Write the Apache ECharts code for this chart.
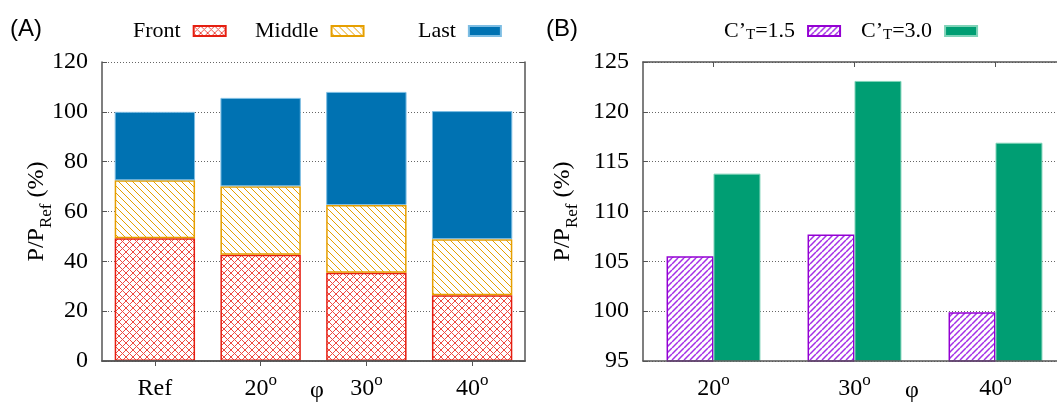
<!DOCTYPE html>
<html>
<head>
<meta charset="utf-8">
<script src="https://cdn.jsdelivr.net/npm/echarts@6/dist/echarts.min.js"></script>
<style>
  html, body { margin: 0; padding: 0; background: #fff; }
  #chart { width: 1057px; height: 402px; }
</style>
</head>
<body>
<div id="chart"></div>
<script>
// Panel A: share of farm power produced by each turbine row (% of reference)
const positionsA = ['Ref', '20', '30', '40'];
const frontA  = [49.3, 42.6, 35.4, 26.4];
const middleA = [23.2, 27.5, 27.2, 22.5];
const lastA   = [27.5, 35.5, 45.4, 51.4];
const ticksA  = [0, 20, 40, 60, 80, 100, 120];

// Panel B: total farm power for two thrust coefficients (% of reference)
const positionsB = ['20', '30', '40'];
const ct15B = [105.5, 107.7, 99.9];
const ct30B = [113.8, 123.1, 116.9];
const ticksB = [95, 100, 105, 110, 115, 120, 125];

const SERIF = 'Liberation Serif';
const SANS = 'Liberation Sans';
const RED = '#e51e10', ORANGE = '#e69f00', BLUE = '#0072b2';
const PURPLE = '#9400d3', GREEN = '#009e73';
const FRAME = '#555';

// Tiled hatch fill: '\\' and '/' diagonal lines on a white square tile
function hatch(color, size, dirs, width) {
  const c = document.createElement('canvas');
  c.width = c.height = size;
  const g = c.getContext('2d');
  g.fillStyle = '#ffffff';
  g.fillRect(0, 0, size, size);
  g.strokeStyle = color;
  g.lineWidth = width || 1;
  dirs.forEach(function (d) {
    g.beginPath();
    for (let k = -1; k <= 1; k++) {
      if (d === '\\') { g.moveTo(k * size, 0); g.lineTo(k * size + size, size); }
      else { g.moveTo(k * size, size); g.lineTo(k * size + size, 0); }
    }
    g.stroke();
  });
  return { image: c.toDataURL('image/png'), repeat: 'repeat' };
}

// Rich-text styles for superscripts / subscripts
const labelRich = {
  n: { fontFamily: SERIF, fontSize: 24, lineHeight: 24, verticalAlign: 'top', padding: [6, 0, 0, 0], color: '#000' },
  s: { fontFamily: SERIF, fontSize: 17, lineHeight: 17, verticalAlign: 'top', padding: [1, 0, 0, 0], color: '#000' }
};
const nameRich = {
  m: { fontFamily: SERIF, fontSize: 24, lineHeight: 24, verticalAlign: 'top', padding: [0, 0, 0, 0], color: '#000' },
  b: { fontFamily: SERIF, fontSize: 17, lineHeight: 17, verticalAlign: 'top', padding: [13, 0, 0, 0], color: '#000' }
};
const legendRich = {
  c: { fontFamily: SERIF, fontSize: 22, lineHeight: 22, verticalAlign: 'top', padding: [0, 0, 0, 0], color: '#000' },
  t: { fontFamily: SERIF, fontSize: 15, lineHeight: 15, verticalAlign: 'top', padding: [8, 0, 0, 0], color: '#000' }
};
const yName = '{m|P/P}{b|Ref}{m| (%)}';

function degLabel(v) {
  return v === 'Ref' ? '{n|Ref}' : '{n|' + v + '}{s|o}';
}

function bottomAxis(grid, cats, phiShift) {
  return {
    type: 'category', gridIndex: grid, position: 'bottom', data: cats, z: 5,
    axisLine: { show: true, lineStyle: { color: FRAME, width: 1.5 } },
    axisTick: { show: false },
    splitLine: { show: false },
    axisLabel: { formatter: degLabel, rich: labelRich, margin: 10, interval: 0 },
    name: 'φ', nameLocation: 'middle', nameGap: 18, nameMoveOverlap: false,
    nameTextStyle: { fontFamily: SERIF, fontSize: 24, color: '#000', padding: [0, 0, 0, phiShift] }
  };
}
function topAxis(grid, cats) {
  return {
    type: 'category', gridIndex: grid, position: 'top', data: cats, z: 5,
    axisLine: { show: true, lineStyle: { color: FRAME, width: 1.5 } },
    axisTick: { show: true, inside: true, alignWithLabel: true, length: 5, lineStyle: { color: FRAME, width: 1 } },
    axisLabel: { show: false },
    splitLine: { show: false }
  };
}
function leftAxis(grid, ticks, gap) {
  return {
    type: 'value', gridIndex: grid, position: 'left',
    min: ticks[0], max: ticks[ticks.length - 1], interval: ticks[1] - ticks[0],
    axisLine: { show: true, lineStyle: { color: FRAME, width: 1.5 } },
    axisTick: { show: true, inside: true, length: 5, lineStyle: { color: FRAME, width: 1 } },
    splitLine: { show: true, lineStyle: { color: '#666', width: 1, type: [1, 2] } },
    axisLabel: { fontFamily: SERIF, fontSize: 24, color: '#000', margin: 14 },
    name: yName, nameLocation: 'middle', nameGap: gap, nameRotate: 90, nameMoveOverlap: false,
    nameTextStyle: { rich: nameRich }
  };
}
function rightAxis(grid, ticks) {
  return {
    type: 'value', gridIndex: grid, position: 'right', z: 5,
    min: ticks[0], max: ticks[ticks.length - 1], interval: ticks[1] - ticks[0],
    axisLine: { show: true, lineStyle: { color: FRAME, width: 1.5 } },
    axisTick: { show: true, inside: true, length: 5, lineStyle: { color: FRAME, width: 1 } },
    splitLine: { show: false },
    axisLabel: { show: false }
  };
}

const legendBase = {
  orient: 'horizontal', align: 'right', top: 20, padding: 0,
  itemWidth: 32, itemHeight: 10, icon: 'rect', selectedMode: false,
  textStyle: { fontFamily: SERIF, fontSize: 22, color: '#000', padding: [0, 8, 0, 0], rich: legendRich }
};
function legendAt(name, left, fmt) {
  const l = Object.assign({}, legendBase, { data: [name], left: left });
  if (fmt) l.formatter = fmt;
  return l;
}
const ctLabel = function (name) {
  return name === 'ct15' ? '{c|C’}{t|T}{c|=1.5}' : '{c|C’}{t|T}{c|=3.0}';
};

const chart = echarts.init(document.getElementById('chart'), null, { renderer: 'canvas' });
chart.setOption({
  animation: false,
  backgroundColor: '#fff',
  title: [
    { text: '(A)', left: 10, top: 17, padding: 0, textStyle: { fontFamily: SANS, fontSize: 24, fontWeight: 'normal', color: '#000' } },
    { text: '(B)', left: 546, top: 17, padding: 0, textStyle: { fontFamily: SANS, fontSize: 24, fontWeight: 'normal', color: '#000' } }
  ],
  legend: [
    legendAt('Front', 133),
    legendAt('Middle', 255),
    legendAt('Last', 418),
    legendAt('ct15', 724, ctLabel),
    legendAt('ct30', 861, ctLabel)
  ],
  grid: [
    { left: 102, top: 62, width: 423, height: 299, outerBoundsMode: 'none' },
    { left: 643, top: 62, width: 423, height: 299, outerBoundsMode: 'none' }
  ],
  xAxis: [
    bottomAxis(0, positionsA, 7),
    topAxis(0, positionsA),
    bottomAxis(1, positionsB, 115),
    topAxis(1, positionsB)
  ],
  yAxis: [
    leftAxis(0, ticksA, 53),
    rightAxis(0, ticksA),
    leftAxis(1, ticksB, 68),
    rightAxis(1, ticksB)
  ],
  series: [
    {
      name: 'Front', type: 'bar', stack: 'rows', xAxisIndex: 0, yAxisIndex: 0, data: frontA,
      barWidth: '76%', silent: true,
      itemStyle: { color: hatch('#ee4a40', 7, ['\\', '/']), borderColor: RED, borderWidth: 1.5 }
    },
    {
      name: 'Middle', type: 'bar', stack: 'rows', xAxisIndex: 0, yAxisIndex: 0, data: middleA,
      barWidth: '76%', silent: true,
      itemStyle: { color: hatch(ORANGE, 7, ['\\']), borderColor: ORANGE, borderWidth: 1.5 }
    },
    {
      name: 'Last', type: 'bar', stack: 'rows', xAxisIndex: 0, yAxisIndex: 0, data: lastA,
      barWidth: '76%', silent: true,
      itemStyle: { color: BLUE, borderColor: '#7dbde3', borderWidth: 1 }
    },
    {
      name: 'ct15', type: 'bar', xAxisIndex: 2, yAxisIndex: 2, data: ct15B,
      barWidth: '33.3%', barGap: '0%', silent: true,
      itemStyle: { color: hatch('#a431e6', 6, ['/'], 1.5), borderColor: PURPLE, borderWidth: 1.5 }
    },
    {
      name: 'ct30', type: 'bar', xAxisIndex: 2, yAxisIndex: 2, data: ct30B,
      barWidth: '33.3%', barGap: '0%', silent: true,
      itemStyle: { color: GREEN, borderColor: '#7fd3b8', borderWidth: 1 }
    }
  ]
});
</script>
</body>
</html>
